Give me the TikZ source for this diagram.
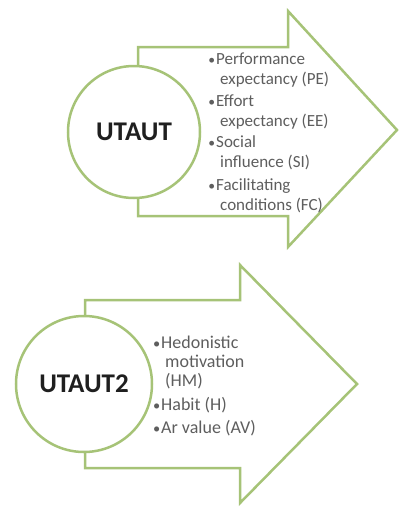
\documentclass[tikz,border=0pt]{standalone}
\usepackage{fontspec}
\setmainfont{Carlito}
\usepackage{xcolor}
\definecolor{vgreen}{HTML}{A6C377}
\definecolor{vtext}{HTML}{5E5E5E}
\definecolor{vblack}{HTML}{1F1F1F}
\tikzset{
	fac/.style = {anchor = west, align = left, text = vtext, inner sep = 0pt,
		font = \fontsize{17}{20}\selectfont},
	hub/.style = {circle, draw = vgreen, line width = 2.5pt, fill = white,
		text = vblack, font = \fontsize{27}{30}\bfseries},
	shaft/.style = {draw = vgreen, line width = 2.5pt, fill = white, line join = miter}
}
\newcommand{\bul}{\llap{\scalebox{0.8}{•}\hspace{1pt}}}
\newcommand{\cont}{\hspace*{4pt}}
\begin{document}
\begin{tikzpicture}[x = 1pt, y = -1pt]
		\useasboundingbox (0,0) rectangle (401,507);
		% arrow-1
		\draw[shaft] (138,47) -- (288,47) -- (288,11) -- (397,130) -- (288,247) -- (288,216) -- (138,216) -- cycle;
		\node[hub, minimum size = 132pt] (ut1) at (134,132) {UTAUT};
		\node[fac] (pe) at (216,70) {\bul Performance\\ \cont expectancy (PE)};
		\node[fac] (ee) at (216,112) {\bul Effort\\ \cont expectancy (EE)};
		\node[fac] (si) at (216,153) {\bul Social\\ \cont influence (SI)};
		\node[fac] (fc) at (216,196) {\bul Facilitating\\ \cont conditions (FC)};
		% arrow-2
		\draw[shaft] (85,300) -- (240,300) -- (240,265) -- (357,384) -- (240,503) -- (240,468) -- (85,468) -- cycle;
		\node[hub, minimum size = 136pt] (ut2) at (84,384) {UTAUT2};
		\node[fac, font = \fontsize{18}{19}\selectfont] (hm) at (161,362) {\bul Hedonistic\\ \cont motivation\\ \cont (HM)};
		\node[fac, font = \fontsize{18}{19}\selectfont] (h) at (161,405) {\bul Habit (H)};
		\node[fac, font = \fontsize{18}{19}\selectfont] (av) at (161,428) {\bul Ar value (AV)};
	\end{tikzpicture}
\end{document}
